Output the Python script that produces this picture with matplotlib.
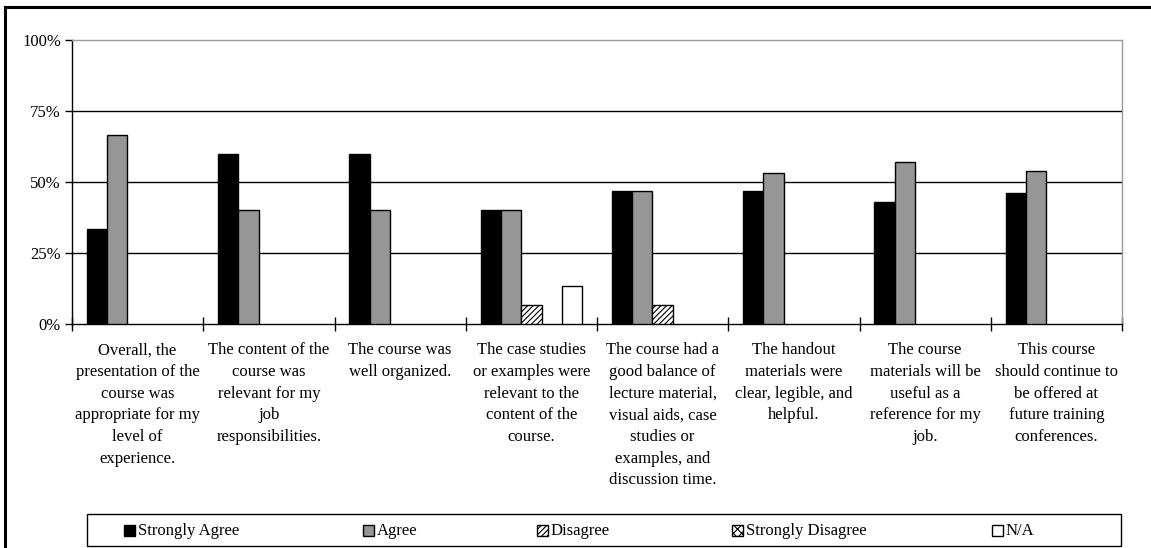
import matplotlib
matplotlib.use('Agg')
import matplotlib.pyplot as plt
from matplotlib.patches import Rectangle
from matplotlib.lines import Line2D
import numpy as np

plt.rcParams['font.family'] = 'Liberation Serif'
plt.rcParams['hatch.linewidth'] = 0.8

questions = [
    "Overall, the\npresentation of the\ncourse was\nappropriate for my\nlevel of\nexperience.",
    "The content of the\ncourse was\nrelevant for my\njob\nresponsibilities.",
    "The course was\nwell organized.",
    "The case studies\nor examples were\nrelevant to the\ncontent of the\ncourse.",
    "The course had a\ngood balance of\nlecture material,\nvisual aids, case\nstudies or\nexamples, and\ndiscussion time.",
    "The handout\nmaterials were\nclear, legible, and\nhelpful.",
    "The course\nmaterials will be\nuseful as a\nreference for my\njob.",
    "This course\nshould continue to\nbe offered at\nfuture training\nconferences.",
]

responses = ["Strongly Agree", "Agree", "Disagree", "Strongly Disagree", "N/A"]

strongly_agree = [33.3, 60.0, 60.0, 40.0, 46.7, 46.7, 42.9, 46.2]
agree = [66.7, 40.0, 40.0, 40.0, 46.7, 53.3, 57.1, 53.8]
disagree = [0.0, 0.0, 0.0, 6.7, 6.7, 0.0, 0.0, 0.0]
strongly_disagree = [0.0, 0.0, 0.0, 0.0, 0.0, 0.0, 0.0, 0.0]
not_applicable = [0.0, 0.0, 0.0, 13.3, 0.0, 0.0, 0.0, 0.0]

series = [strongly_agree, agree, disagree, strongly_disagree, not_applicable]
faces = ['black', '#969696', 'white', 'white', 'white']
hatches = [None, None, '//////', 'xxxx', None]

W, H = 1151, 548
fig = plt.figure(figsize=(W / 100, H / 100), dpi=100)
ax = fig.add_axes([72 / W, 1 - 324 / H, 1050 / W, 284 / H])

x = np.arange(len(questions))
width = 0.155
for i, (vals, fc, h) in enumerate(zip(series, faces, hatches)):
    offs = (i - 2) * width
    for xi, v in zip(x, vals):
        if v > 0:
            ax.bar(xi + offs, v, width, color=fc, edgecolor='black',
                   linewidth=1.0, hatch=h, zorder=3)

ax.set_xlim(-0.5, len(questions) - 0.5)
ax.set_ylim(0, 100)
ax.set_yticks([0, 25, 50, 75, 100])
ax.set_yticklabels([f"{t}%" for t in [0, 25, 50, 75, 100]], fontsize=12)
for t in [25, 50, 75]:
    ax.axhline(t, color='black', linewidth=1.0, zorder=1)

ax.set_xticks(np.arange(-0.5, len(questions), 1.0))
ax.set_xticklabels([])
ax.tick_params(axis='x', direction='inout', length=10, width=1)
ax.tick_params(axis='y', direction='out', length=5, width=1, pad=3)

ax.spines['top'].set_color('#999999')
ax.spines['right'].set_color('#999999')
ax.spines['left'].set_color('black')
ax.spines['bottom'].set_color('black')
for s in ax.spines.values():
    s.set_linewidth(1.0)

for xi, q in zip(x, questions):
    ax.text(xi, -6.5, q, ha='center', va='top', fontsize=12,
            linespacing=1.47, transform=ax.transData)

# legend box drawn by hand so entries sit where Excel put them
fig.add_artist(Rectangle((87 / W, 1 - 546 / H), 1034 / W, 32 / H,
                         transform=fig.transFigure, facecolor='white',
                         edgecolor='black', linewidth=1.0))
key_x = [124, 363, 537, 732, 992]
key_y = 530
sq = 11
for kx, label, fc, h in zip(key_x, responses, faces, hatches):
    fig.add_artist(Rectangle((kx / W, 1 - (key_y + sq / 2) / H), sq / W, sq / H,
                             transform=fig.transFigure, facecolor=fc,
                             edgecolor='black', linewidth=1.0, hatch=h))
    fig.text((kx + sq + 3) / W, 1 - (key_y + 1) / H, label, fontsize=12,
             ha='left', va='center')

# outer frame edges
fig.add_artist(Line2D([5 / W, 5 / W], [0, 1 - 7 / H], color='black', linewidth=2.2))
fig.add_artist(Line2D([5 / W, 1], [1 - 7 / H, 1 - 7 / H], color='black', linewidth=2.2))

fig.savefig('out.png', dpi=100, facecolor='white')
